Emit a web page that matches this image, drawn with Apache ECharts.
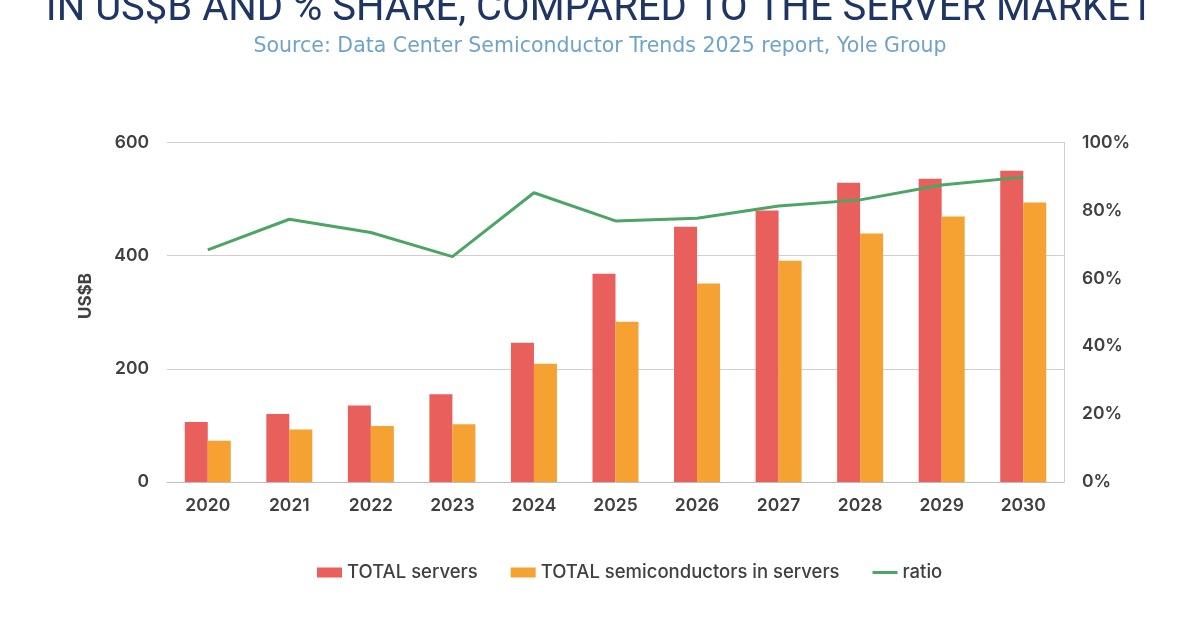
<!DOCTYPE html>
<html>
<head>
<meta charset="utf-8">
<script src="https://cdn.jsdelivr.net/npm/echarts@6/dist/echarts.min.js"></script>
<style>
  html, body { margin: 0; padding: 0; background: #fff; }
  #chart { width: 1200px; height: 630px; }
</style>
</head>
<body>
<div id="chart"></div>
<script>
// 数据
const years = ['2020', '2021', '2022', '2023', '2024', '2025', '2026', '2027', '2028', '2029', '2030'];
const totalServers = [106, 120, 135, 155, 246, 368, 451, 480, 529, 536, 550];
const semisInServers = [73, 93, 99, 102, 209, 283, 351, 391, 439, 469, 494];
const ratio = [68.4, 77.4, 73.5, 66.4, 85.2, 76.9, 77.7, 81.3, 83.1, 87.5, 89.8];

const titleText = 'IN US$B AND % SHARE, COMPARED TO THE SERVER MARKET';
const sourceText = 'Source: Data Center Semiconductor Trends 2025 report, Yole Group';
const yAxisName = 'US$B';

const font = 'Inter';
const labelColor = '#404040';

const chart = echarts.init(document.getElementById('chart'));

const option = {
    backgroundColor: '#ffffff',
    animation: false,
    title: [
        {
            text: titleText,
            left: 'center',
            top: -15,
            textStyle: { fontFamily: 'Roboto', fontSize: 40, fontWeight: 400, color: '#1f3564' }
        },
        {
            text: sourceText,
            left: 'center',
            top: 31,
            textStyle: { fontFamily: 'DejaVu Sans', fontSize: 20.5, fontWeight: 400, color: '#6fa3c7' }
        }
    ],
    // 纵轴名称，位置偏上
    graphic: [
        {
            type: 'text',
            x: 86,
            y: 296,
            rotation: Math.PI / 2,
            style: {
                text: yAxisName,
                align: 'center',
                verticalAlign: 'middle',
                font: '700 17px Inter',
                fill: labelColor
            }
        }
    ],
    grid: { left: 167, right: 136, top: 142.5, bottom: 148 },
    legend: {
        top: 558,
        left: 312,
        itemGap: 33,
        itemWidth: 25,
        itemHeight: 10,
        textStyle: { fontFamily: font, fontSize: 18.5, fontWeight: 500, color: labelColor },
        data: [
            { name: 'TOTAL servers', icon: 'rect' },
            { name: 'TOTAL semiconductors in servers', icon: 'rect' },
            { name: 'ratio', icon: 'path://M0,0 L25,0 L25,3 L0,3 Z' }
        ]
    },
    xAxis: {
        type: 'category',
        data: years,
        axisLine: { lineStyle: { color: '#bdbdbd', width: 1 } },
        axisTick: { show: false },
        axisLabel: { margin: 15, fontFamily: font, fontSize: 17.5, fontWeight: 600, color: labelColor }
    },
    yAxis: [
        {
            type: 'value',
            min: 0,
            max: 600,
            interval: 200,
            axisLine: { show: false },
            axisTick: { show: false },
            axisLabel: { margin: 18, fontFamily: font, fontSize: 17.5, fontWeight: 600, color: labelColor },
            splitLine: { lineStyle: { color: '#cfcfcf', width: 1 } }
        },
        {
            type: 'value',
            min: 0,
            max: 100,
            interval: 20,
            position: 'right',
            axisLine: { show: true, lineStyle: { color: '#cfcfcf', width: 1 } },
            axisTick: { show: false },
            axisLabel: { margin: 18, formatter: '{value}%', fontFamily: font, fontSize: 17.5, fontWeight: 600, color: labelColor },
            splitLine: { show: false }
        }
    ],
    series: [
        {
            name: 'TOTAL servers',
            type: 'bar',
            data: totalServers,
            barWidth: 23,
            barGap: '0%',
            itemStyle: { color: '#e95f5b' }
        },
        {
            name: 'TOTAL semiconductors in servers',
            type: 'bar',
            data: semisInServers,
            barWidth: 23,
            barGap: '0%',
            itemStyle: { color: '#f6a233' }
        },
        {
            name: 'ratio',
            type: 'line',
            yAxisIndex: 1,
            data: ratio,
            symbol: 'none',
            lineStyle: { color: '#4ca565', width: 3 },
            itemStyle: { color: '#4ca565' }
        }
    ]
};

chart.setOption(option);
</script>
</body>
</html>
